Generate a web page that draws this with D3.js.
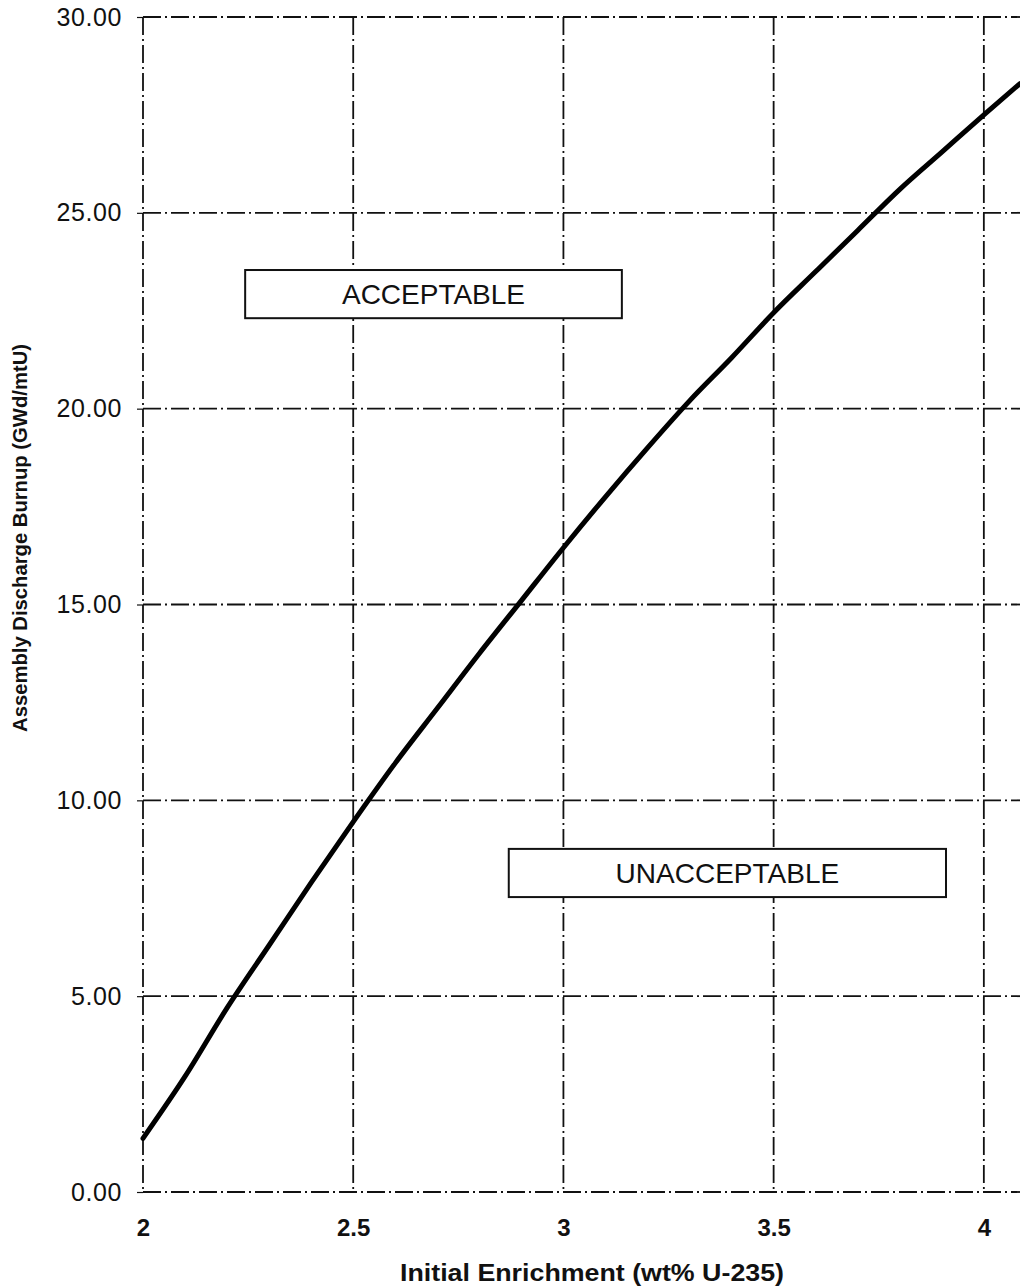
<!DOCTYPE html>
<html>
<head>
<meta charset="utf-8">
<script src="https://cdn.jsdelivr.net/npm/d3@7"></script>
<style>
  body { margin: 0; background: #fff; }
  svg { display: block; font-family: "Liberation Sans", Arial, sans-serif; }
</style>
</head>
<body>
<svg id="chart"></svg>
<script>
// curve
const enrichment = [2.0, 2.1, 2.2, 2.3, 2.4, 2.5, 2.6, 2.7, 2.8, 2.9, 3.0, 3.1, 3.2, 3.3,
  3.4, 3.5, 3.6, 3.7, 3.8, 3.9, 4.0, 4.086];
const burnup = [1.37, 2.95, 4.7, 6.3, 7.9, 9.45, 10.95, 12.35, 13.75, 15.1, 16.45, 17.75, 19.0, 20.2,
  21.3, 22.45, 23.5, 24.55, 25.6, 26.55, 27.5, 28.3];

const xTicks = [2, 2.5, 3, 3.5, 4];
const yTicks = [0, 5, 10, 15, 20, 25, 30];

// region labels with their box corners in data units
const regionLabels = ['ACCEPTABLE', 'UNACCEPTABLE'];
const regionX = [[2.243, 3.139], [2.870, 3.910]];
const regionY = [[23.54, 22.31], [8.76, 7.53]];

const data = enrichment.map((e, i) => ({e: e, b: burnup[i]}));

const W = 1020, H = 1287;
const margin = {top: 17, right: 0, bottom: 95, left: 143};
const width = W - margin.left - margin.right;
const height = H - margin.top - margin.bottom;

const svg = d3.select('#chart')
    .attr('width', W)
    .attr('height', H);

const chart = svg.append('g')
    .attr('transform', `translate(${margin.left},${margin.top})`);

const xScale = d3.scaleLinear().domain([2, 4.086]).range([0, width]);
const yScale = d3.scaleLinear().domain([0, 30]).range([height, 0]);

const dash = '18,4,2,4';

// grid lines
chart.append('g')
    .selectAll('line')
    .data(yTicks)
    .join('line')
      .attr('x1', 0)
      .attr('x2', width)
      .attr('y1', d => yScale(d))
      .attr('y2', d => yScale(d))
      .attr('stroke', '#111')
      .attr('stroke-width', 1.8)
      .attr('stroke-dasharray', dash);

chart.append('g')
    .selectAll('line')
    .data(xTicks)
    .join('line')
      .attr('x1', d => xScale(d))
      .attr('x2', d => xScale(d))
      .attr('y1', 0)
      .attr('y2', height)
      .attr('stroke', '#111')
      .attr('stroke-width', 1.8)
      .attr('stroke-dasharray', dash);

// axes (labels + small ticks)
const yAxis = d3.axisLeft(yScale)
    .tickValues(yTicks)
    .tickFormat(d3.format('.2f'))
    .tickSize(6)
    .tickPadding(15);

const yAxisG = chart.append('g').call(yAxis);
yAxisG.select('.domain').remove();
yAxisG.selectAll('line').attr('stroke', '#111').attr('stroke-width', 1.2);
yAxisG.selectAll('text')
    .style('font-size', '25px')
    .style('letter-spacing', '0.6px')
    .attr('fill', '#111');

const xAxis = d3.axisBottom(xScale)
    .tickValues(xTicks)
    .tickFormat(d3.format('~g'))
    .tickSize(0)
    .tickPadding(27);

const xAxisG = chart.append('g')
    .attr('transform', `translate(0,${height})`)
    .call(xAxis);
xAxisG.select('.domain').remove();
xAxisG.selectAll('text')
    .style('font-size', '24px')
    .style('font-weight', 'bold')
    .attr('fill', '#111');

// region boxes
const boxes = chart.append('g');
regionLabels.forEach((label, i) => {
  const x0 = xScale(regionX[i][0]), x1 = xScale(regionX[i][1]);
  const y0 = yScale(regionY[i][0]), y1 = yScale(regionY[i][1]);
  boxes.append('rect')
      .attr('x', x0)
      .attr('y', y0)
      .attr('width', x1 - x0)
      .attr('height', y1 - y0)
      .attr('fill', '#fff')
      .attr('stroke', '#111')
      .attr('stroke-width', 2);
  boxes.append('text')
      .attr('x', (x0 + x1) / 2)
      .attr('y', (y0 + y1) / 2)
      .attr('dy', '0.36em')
      .attr('text-anchor', 'middle')
      .style('font-size', '28px')
      .attr('fill', '#111')
      .text(label);
});

// curve
const line = d3.line()
    .x(d => xScale(d.e))
    .y(d => yScale(d.b))
    .curve(d3.curveMonotoneX);

chart.append('path')
    .datum(data)
    .attr('fill', 'none')
    .attr('stroke', '#000')
    .attr('stroke-width', 5)
    .attr('stroke-linecap', 'round')
    .attr('d', line);

// axis titles
svg.append('text')
    .attr('x', 592)
    .attr('y', 1281)
    .attr('text-anchor', 'middle')
    .attr('textLength', 384)
    .attr('lengthAdjust', 'spacingAndGlyphs')
    .style('font-family', '"Liberation Sans Narrow", "Arial Narrow", "Liberation Sans", Arial, sans-serif')
    .style('font-size', '24px')
    .style('font-weight', 'bold')
    .attr('fill', '#111')
    .text('Initial Enrichment (wt% U-235)');

svg.append('text')
    .attr('transform', 'translate(27,538) rotate(-90)')
    .attr('text-anchor', 'middle')
    .attr('textLength', 388)
    .attr('lengthAdjust', 'spacingAndGlyphs')
    .style('font-family', '"Liberation Sans Narrow", "Arial Narrow", "Liberation Sans", Arial, sans-serif')
    .style('font-size', '20px')
    .style('font-weight', 'bold')
    .attr('fill', '#111')
    .text('Assembly Discharge Burnup (GWd/mtU)');
</script>
</body>
</html>
